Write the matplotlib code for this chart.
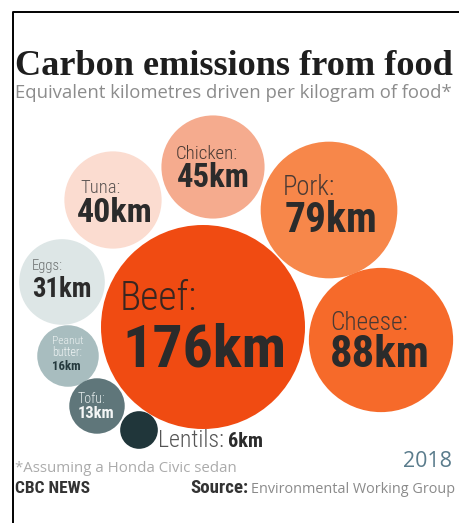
import matplotlib
matplotlib.use("Agg")
import matplotlib.pyplot as plt
from matplotlib.patches import Circle
from matplotlib.lines import Line2D
from matplotlib import font_manager
from matplotlib.font_manager import FontProperties
import numpy as np

# Kilometres driven per kilogram of food
foods = ["Beef", "Cheese", "Pork", "Chicken", "Tuna", "Eggs", "Peanut butter", "Tofu", "Lentils"]
km = [176, 88, 79, 45, 40, 31, 16, 13, 6]
colors = ["#f04b12", "#f66a2a", "#f7874a", "#f5ab8e", "#fbdcd0",
          "#dde6e6", "#a8bdbf", "#5f767a", "#20363a"]

# Packed-bubble layout (pixel space, y downward)
centers = {
    "Beef": (203, 327), "Cheese": (381, 340), "Pork": (329, 210),
    "Chicken": (213, 167), "Tuna": (113, 200), "Eggs": (62, 282),
    "Peanut butter": (68, 356), "Tofu": (97, 406), "Lentils": (139, 430),
}
scale = 102 / np.sqrt(176)   # radius per sqrt(km): bubble area ~ value


def pick(cands):
    for c in cands:
        try:
            font_manager.findfont(FontProperties(family=c), fallback_to_default=False)
            return c
        except Exception:
            pass
    return "DejaVu Sans"


NARROW = pick(["Liberation Sans Narrow", "Roboto Condensed", "Roboto"])
SANS = pick(["Open Sans", "Noto Sans", "DejaVu Sans"])
SERIF = pick(["Liberation Serif", "DejaVu Serif"])

W, H = 460, 523
fig = plt.figure(figsize=(W / 100, H / 100), dpi=100)
ax = fig.add_axes([0, 0, 1, 1])
ax.set_xlim(0, W)
ax.set_ylim(H, 0)
ax.set_aspect("equal")
ax.axis("off")

for name, v, c in zip(foods, km, colors):
    cx, cy = centers[name]
    ax.add_patch(Circle((cx, cy), scale * np.sqrt(v), color=c, lw=0, zorder=2))

fig.canvas.draw()
renderer = fig.canvas.get_renderer()


def fit_text(x, y, s, width, ha="left", **kw):
    """Text set on a baseline, sized so that it spans `width` pixels."""
    t = ax.text(x, y, s, fontsize=10, va="baseline", ha=ha, zorder=3, **kw)
    w = t.get_window_extent(renderer=renderer).width
    t.set_fontsize(10 * width / w)
    return t


dark = "#2b2b2b"
name_col = "#4a3a34"

# name: (label, x, baseline, width) for the name line and the value line
labels = {
    "Chicken": (("Chicken:", 176, 159, 62), (177, 187, 73), name_col),
    "Tuna": (("Tuna:", 80, 193, 40), (77, 222, 76), "#5a5452"),
    "Pork": (("Pork:", 283, 195, 52), (285, 232, 93), name_col),
    "Eggs": (("Eggs:", 32, 270, 31), (32, 297, 60), "#6a6e6e"),
    "Beef": (("Beef:", 120, 310, 77), (122, 367, 165), "#3a2620"),
    "Cheese": (("Cheese:", 330, 330, 78), (330, 367, 100), name_col),
}
for name, v in zip(foods, km):
    if name not in labels:
        continue
    (t, x, y, w), (vx, vy, vw), cn = labels[name]
    fit_text(x, y, t, w, color=cn, family=NARROW, weight="light")
    fit_text(vx, vy, f"{v}km", vw, color=dark, family=NARROW, weight="bold")

pb = km[foods.index("Peanut butter")]
fit_text(52, 344, "Peanut", 31, color="#eef3f3", family=NARROW, weight="light")
fit_text(52, 356, "butter:", 30, color="#eef3f3", family=NARROW, weight="light")
fit_text(52, 370, f"{pb}km", 29, color="#253a3e", family=NARROW, weight="bold")

tf = km[foods.index("Tofu")]
fit_text(78, 403, "Tofu:", 28, color="#e6eded", family=NARROW, weight="light")
fit_text(78, 418, f"{tf}km", 37, color="#f4f6f6", family=NARROW, weight="bold")

le = km[foods.index("Lentils")]
fit_text(158, 447, "Lentils:", 66, color="#555", family=NARROW, weight="light")
fit_text(228, 447, f"{le}km", 35, color=dark, family=NARROW, weight="bold")

# Titles
fit_text(15, 75, "Carbon emissions from food", 438, weight="bold",
         family=SERIF, color="#1e1e1e")
fit_text(15, 98, "Equivalent kilometres driven per kilogram of food*", 438,
         family=SANS, color="#8c8c8c")

# Footer
fit_text(15, 472, "*Assuming a Honda Civic sedan", 222, family=SANS, color="#ababab")
fit_text(15, 493, "CBC NEWS", 75, family=NARROW, weight="bold", color="#333")
fit_text(403, 467, "2018", 49, family=SANS, color="#5a7c8c")
fit_text(190, 493, "Source:", 58, family=NARROW, weight="bold", color="#333")
fit_text(251, 493, "Environmental Working Group", 203, family=SANS, color="#8a8a8a")

# Frame along the top and left edges
fig.add_artist(Line2D([13 / W, 13 / W, 1], [0, 1 - 12 / H, 1 - 12 / H],
                      transform=fig.transFigure, color="black", lw=1.4))

fig.savefig("out.png", dpi=100, facecolor="white")
